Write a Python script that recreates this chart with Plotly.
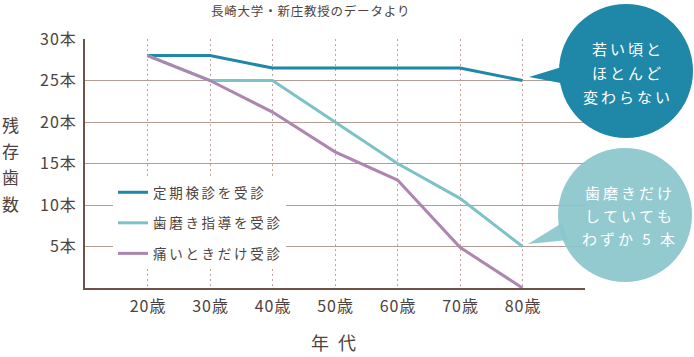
import plotly.graph_objects as go

# ---- data ----
ages = [20, 30, 40, 50, 60, 70, 80]
age_labels = ["20歳", "30歳", "40歳", "50歳", "60歳", "70歳", "80歳"]
series_names = ["定期検診を受診", "歯磨き指導を受診", "痛いときだけ受診"]
teeth_checkup = [28, 28, 26.5, 26.5, 26.5, 26.5, 25]
teeth_brushing = [28, 25, 25, 20, 15, 10.8, 5]
teeth_pain = [28, 25, 21.2, 16.4, 13, 4.9, 0]
y_ticks = [5, 10, 15, 20, 25, 30]
y_tick_labels = ["5本", "10本", "15本", "20本", "25本", "30本"]
title_text = "長崎大学・新庄教授のデータより"
y_title_chars = ["残", "存", "歯", "数"]
x_title = "年 代"
bubble1_lines = ["若い頃と", "ほとんど", "変わらない"]
bubble2_lines = ["歯磨きだけ", "していても", "わずか 5 本"]

colors = ["#1f87a7", "#7cc2c7", "#ad86b0"]
text_color = "#4d4340"
grid_color = "#b49c94"
vgrid_color = "#c4a49c"
axis_color = "#6e534b"
bubble1_color = "#1f88a8"
bubble2_color = "#89c5cc"
FONT = "Noto Sans CJK JP"

W, H = 694, 357
L, R, T, B = 85, 109, 39, 69
PW, PH = W - L - R, H - T - B


def px(x):
    return (x - L) / PW


def py(y):
    return (H - B - y) / PH


def spaced(s, sep="\u2009"):
    return sep.join(list(s))


def note(text, x, y, size, color, family=FONT):
    return dict(text=text, xref="paper", yref="paper", x=px(x), y=py(y),
                xanchor="center", yanchor="middle", showarrow=False,
                font=dict(family=family, size=size, color=color))


fig = go.Figure()
for name, vals, c in zip(series_names, [teeth_checkup, teeth_brushing, teeth_pain], colors):
    fig.add_trace(go.Scatter(
        x=ages, y=vals, mode="lines", name=spaced(name),
        line=dict(color=c, width=3), legendgroup=name, cliponaxis=False,
        hoverinfo="skip",
    ))

shapes = []
# speech bubbles
shapes.append(dict(type="circle", xref="paper", yref="paper", layer="above",
                   x0=px(559), x1=px(693), y0=py(138), y1=py(4),
                   fillcolor=bubble1_color, line=dict(width=0)))
shapes.append(dict(type="path", xref="paper", yref="paper", layer="above",
                   path=f"M{px(529)},{py(77)} L{px(565)},{py(66)} L{px(566)},{py(84)} Z",
                   fillcolor=bubble1_color, line=dict(width=0)))
shapes.append(dict(type="circle", xref="paper", yref="paper", layer="above",
                   x0=px(558), x1=px(692), y0=py(282), y1=py(148),
                   fillcolor=bubble2_color, opacity=0.92, line=dict(width=0)))
shapes.append(dict(type="path", xref="paper", yref="paper", layer="above",
                   path=f"M{px(528)},{py(244)} L{px(562)},{py(223)} L{px(568)},{py(240)} Z",
                   fillcolor=bubble2_color, opacity=0.92, line=dict(width=0)))

annotations = []
annotations.append(note(spaced(title_text, "\u200a"), 310, 10, 12.5, text_color))
for ch, yy in zip(y_title_chars, [124, 150, 176, 203]):
    annotations.append(note(ch, 10, yy, 17, text_color))
annotations.append(note(x_title.replace(" ", "\u2002"), 333, 342, 18, text_color))
for line, yy in zip(bubble1_lines, [48, 72, 96]):
    annotations.append(note(spaced(line), 626, yy, 15, "white"))
for line, yy in zip(bubble2_lines, [193, 215, 238]):
    annotations.append(note(spaced(line), 628, yy, 15, "white"))

fig.update_layout(
    width=W, height=H,
    margin=dict(l=L, r=R, t=T, b=B, autoexpand=False),
    paper_bgcolor="white", plot_bgcolor="white",
    font=dict(family=FONT, color=text_color),
    shapes=shapes, annotations=annotations,
    hovermode=False,
    legend=dict(x=px(113), y=py(177), xanchor="left", yanchor="top",
                bgcolor="white", borderwidth=0, tracegroupgap=10,
                font=dict(family=FONT, size=13.5, color=text_color)),
    xaxis=dict(range=[10, 90], tickvals=ages, ticktext=[spaced(t, "\u200a") for t in age_labels],
               showgrid=False, zeroline=False, showline=True, linecolor=axis_color, linewidth=2,
               ticks="", ticklabelstandoff=3, fixedrange=True,
               tickfont=dict(family=FONT, size=16, color=text_color),
               minor=dict(tickmode="array", tickvals=ages + [90], showgrid=True,
                          gridcolor=vgrid_color, griddash="2px,3px", gridwidth=1, ticks="")),
    yaxis=dict(range=[0, 30], tickvals=y_ticks, ticktext=[spaced(t, "\u200a") for t in y_tick_labels],
               showgrid=False, zeroline=False, showline=True, linecolor=axis_color, linewidth=2,
               ticks="", ticklabelstandoff=4, fixedrange=True,
               tickfont=dict(family=FONT, size=16, color=text_color),
               minor=dict(tickmode="array", tickvals=y_ticks[:-1], showgrid=True,
                          gridcolor=grid_color, gridwidth=1, ticks="")),
)

fig.write_html("out.html", config={"displayModeBar": False},
               post_script="document.body.style.margin='0';")
